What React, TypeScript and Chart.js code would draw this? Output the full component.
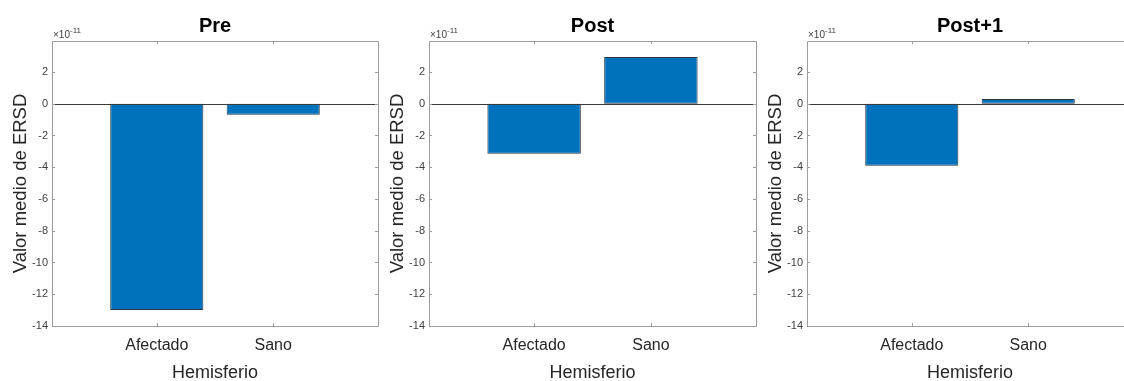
import React, { useEffect, useRef } from 'react';
import { Chart, registerables } from 'chart.js';

Chart.register(...registerables);

// ---- data (values in units of 1e-11) ----
const categories = ['Afectado', 'Sano'];
const panelTitles = ['Pre', 'Post', 'Post+1'];
const preValues = [-13.0, -0.7];
const postValues = [-3.15, 2.95];
const post1Values = [-3.9, 0.3];
const yTickLabels = [-14, -12, -10, -8, -6, -4, -2, 0, 2];
const exponent = -11;
const xAxisTitle = 'Hemisferio';
const yAxisTitle = 'Valor medio de ERSD';

const SCALE = Math.pow(10, exponent);
const FONT = "'Liberation Sans', Arial, sans-serif";

const panels = [
  { title: panelTitles[0], values: preValues, canvasLeft: 0, axisWidth: 52, padRight: 2, yTitlePad: 12 },
  { title: panelTitles[1], values: postValues, canvasLeft: 380, axisWidth: 49, padRight: 4, yTitlePad: 8.5 },
  { title: panelTitles[2], values: post1Values, canvasLeft: 760, axisWidth: 47, padRight: 7, yTitlePad: 7 },
];

const boxPlugin = {
  id: 'matlabBox',
  afterDatasetsDraw(chart: any, _args: any, opts: any) {
    const { ctx, chartArea } = chart;
    const { left, right, top, bottom } = chartArea;
    const xs = chart.scales.x;
    const ys = chart.scales.y;
    ctx.save();
    // zero baseline
    const y0 = Math.round(ys.getPixelForValue(0)) + 0.5;
    ctx.strokeStyle = '#3a3a3a';
    ctx.lineWidth = 1;
    ctx.beginPath();
    ctx.moveTo(left, y0);
    ctx.lineTo(right, y0);
    ctx.stroke();
    // box
    ctx.strokeStyle = '#9c9c9c';
    ctx.beginPath();
    ctx.rect(Math.round(left) + 0.5, Math.round(top) + 0.5, Math.round(right - left), Math.round(bottom - top));
    ctx.stroke();
    // inward ticks
    const tl = 3;
    ctx.beginPath();
    xs.ticks.forEach((t: any) => {
      const px = Math.round(xs.getPixelForValue(t.value)) + 0.5;
      ctx.moveTo(px, bottom);
      ctx.lineTo(px, bottom - tl);
      ctx.moveTo(px, top);
      ctx.lineTo(px, top + tl);
    });
    ys.ticks.forEach((t: any) => {
      const py = Math.round(ys.getPixelForValue(t.value)) + 0.5;
      ctx.moveTo(left, py);
      ctx.lineTo(left + tl, py);
      ctx.moveTo(right, py);
      ctx.lineTo(right - tl, py);
    });
    ctx.stroke();
    // exponent label
    ctx.fillStyle = '#404040';
    ctx.textBaseline = 'alphabetic';
    ctx.textAlign = 'left';
    ctx.font = `10px ${FONT}`;
    const base = '\u00d710';
    ctx.fillText(base, left + 1, top - 3);
    const w = ctx.measureText(base).width;
    ctx.font = `8px ${FONT}`;
    ctx.fillText(String(exponent), left + 1 + w, top - 8);
    // panel title
    ctx.fillStyle = '#000000';
    ctx.font = `bold 20px ${FONT}`;
    ctx.textAlign = 'center';
    ctx.textBaseline = 'middle';
    ctx.fillText(opts.title, (left + right) / 2, 26);
    ctx.restore();
  },
};

function makeConfig(p: any): any {
  return {
    type: 'bar',
    data: {
      datasets: [
        {
          data: categories.map((_, i) => ({ x: i + 1, y: p.values[i] * SCALE })),
          backgroundColor: '#0072BD',
          borderColor: '#2a3440',
          borderWidth: 1,
          borderSkipped: false,
          barPercentage: 0.8,
          categoryPercentage: 1,
        },
      ],
    },
    options: {
      animation: false,
      responsive: false,
      layout: { padding: { left: 0, right: p.padRight, top: 41, bottom: 0 } },
      plugins: {
        legend: { display: false },
        tooltip: { enabled: false },
        title: { display: false },
        matlabBox: { title: p.title },
      },
      scales: {
        x: {
          type: 'linear',
          offset: false,
          min: 0.1,
          max: 2.9,
          afterBuildTicks: (s: any) => {
            s.ticks = categories.map((_, i) => ({ value: i + 1 }));
          },
          afterFit: (s: any) => {
            s.height = 55;
          },
          ticks: {
            autoSkip: false,
            maxRotation: 0,
            padding: 10,
            color: '#262626',
            font: { family: FONT, size: 16 },
            callback: (v: any) => categories[Math.round(v) - 1] ?? '',
          },
          grid: { display: false, drawTicks: false, offset: false },
          border: { display: false },
          title: {
            display: true,
            text: xAxisTitle,
            color: '#262626',
            font: { family: FONT, size: 18, lineHeight: 0.9 },
            padding: { top: 0, bottom: 0 },
          },
        },
        y: {
          type: 'linear',
          min: -14 * SCALE,
          max: 3.95 * SCALE,
          afterBuildTicks: (s: any) => {
            s.ticks = yTickLabels.map((v) => ({ value: v * SCALE }));
          },
          afterFit: (s: any) => {
            s.width = p.axisWidth;
          },
          ticks: {
            padding: 4,
            color: '#404040',
            font: { family: FONT, size: 11 },
            callback: (v: any) => String(Math.round(v / SCALE)),
          },
          grid: { display: false, drawTicks: false },
          border: { display: false },
          title: {
            display: true,
            text: yAxisTitle,
            color: '#262626',
            font: { family: FONT, size: 18.5, lineHeight: 1 },
            padding: { top: p.yTitlePad, bottom: 0 },
          },
        },
      },
    },
    plugins: [boxPlugin],
  };
}

function Panel({ p }: { p: any }) {
  const ref = useRef<HTMLCanvasElement | null>(null);
  useEffect(() => {
    if (!ref.current) return;
    const chart = new Chart(ref.current, makeConfig(p));
    return () => chart.destroy();
  }, [p]);
  return (
    <div style={{ position: 'absolute', left: p.canvasLeft, top: 0, width: 380, height: 381 }}>
      <canvas ref={ref} width={380} height={381} style={{ display: 'block' }} />
    </div>
  );
}

export default function App() {
  return (
    <div
      style={{
        position: 'absolute',
        left: 0,
        top: 0,
        width: 1124,
        height: 381,
        overflow: 'hidden',
        background: '#ffffff',
      }}
    >
      {panels.map((p) => (
        <Panel key={p.title} p={p} />
      ))}
    </div>
  );
}
